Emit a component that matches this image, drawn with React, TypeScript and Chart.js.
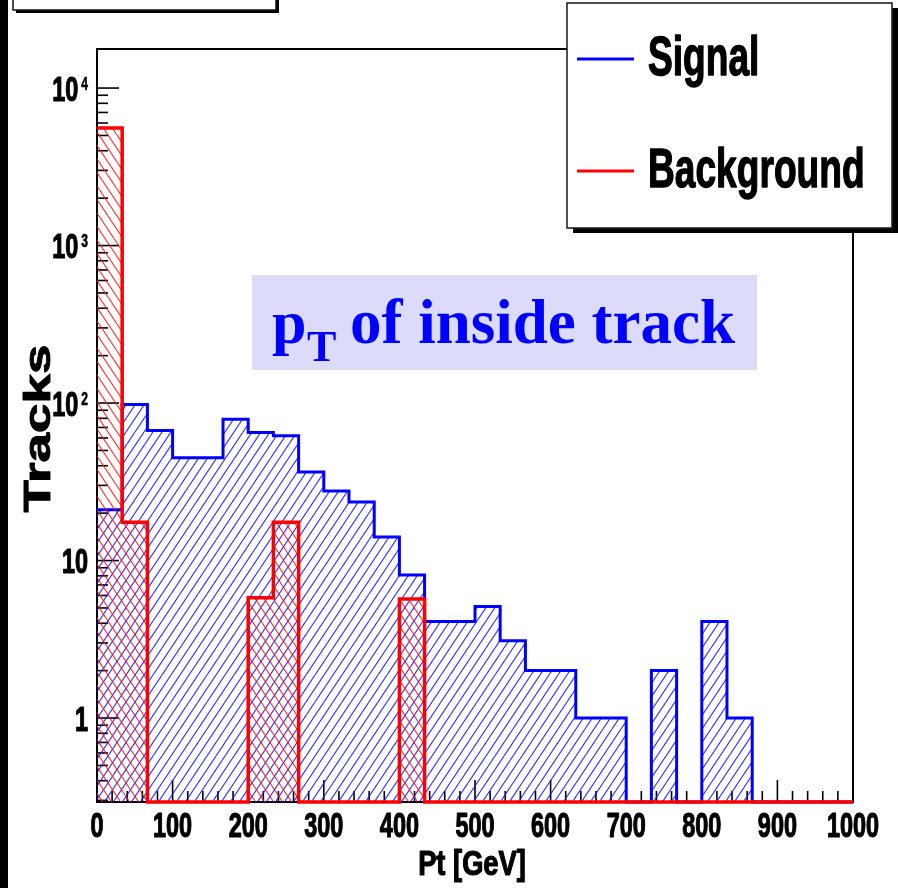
import React, { useEffect, useRef } from 'react';
import { Chart, registerables } from 'chart.js';

Chart.register(...registerables);

const W = 898;
const H = 888;

// Bin edges of the histogram (Pt in GeV), 30 bins of 33.3 GeV
const binEdges = [
  0, 33.3, 66.7, 100, 133.3, 166.7, 200, 233.3, 266.7, 300, 333.3, 366.7, 400, 433.3, 466.7,
  500, 533.3, 566.7, 600, 633.3, 666.7, 700, 733.3, 766.7, 800, 833.3, 866.7, 900, 933.3, 966.7,
  1000,
];

// Bin contents
const signalCounts = [
  21, 98, 67, 45, 45, 79, 65, 62, 36.5, 27.6, 23.5, 14.1, 8.1, 4.1, 4.1,
  5.1, 3.1, 2, 2, 1, 1, 0, 2, 0, 4.1, 1, 0, 0, 0, 0,
];
const backgroundCounts = [
  5570, 17.5, 0, 0, 0, 0, 5.8, 17.5, 0, 0, 0, 0, 5.7, 0, 0,
  0, 0, 0, 0, 0, 0, 0, 0, 0, 0, 0, 0, 0, 0, 0,
];

const seriesNames = ['Signal', 'Background'];
const xTickValues = [0, 100, 200, 300, 400, 500, 600, 700, 800, 900, 1000];
const xTickLabels = ['0', '100', '200', '300', '400', '500', '600', '700', '800', '900', '1000'];
const yDecadeValues = [1, 10, 100, 1000, 10000];
const yDecadeExponents = [0, 1, 2, 3, 4];

const X_MIN = 0;
const X_MAX = 1000;
const Y_MIN = 0.293;
const Y_MAX = 17700;

const xTitle = 'Pt [GeV]';
const yTitle = 'Tracks';

const SANS = '"Liberation Sans", Arial, Helvetica, sans-serif';
const SERIF = '"Liberation Serif", "Times New Roman", Times, serif';

function histPoints(counts: number[]) {
  const pts = counts.map((c, i) => ({ x: binEdges[i], y: c > 0 ? c : Y_MIN }));
  pts.push({ x: binEdges[counts.length], y: pts[pts.length - 1].y });
  return pts;
}

function makeHatch(color: string, rising: boolean): CanvasPattern | string {
  const c = document.createElement('canvas');
  const tw = 18;
  const th = 27;
  c.width = tw;
  c.height = th;
  const g = c.getContext('2d');
  if (!g) return 'transparent';
  g.strokeStyle = color;
  g.lineWidth = 1.1;
  for (const off of [-18, -9, 0, 9, 18]) {
    g.beginPath();
    if (rising) {
      g.moveTo(off, th);
      g.lineTo(off + tw, 0);
    } else {
      g.moveTo(off, 0);
      g.lineTo(off + tw, th);
    }
    g.stroke();
  }
  return g.createPattern(c, 'repeat') || 'transparent';
}

function sText(
  ctx: CanvasRenderingContext2D,
  text: string,
  x: number,
  y: number,
  font: string,
  sx: number,
  align: CanvasTextAlign,
  heavy = 0,
) {
  ctx.save();
  ctx.font = font;
  ctx.translate(x, y);
  ctx.scale(sx, 1);
  ctx.textAlign = align;
  ctx.textBaseline = 'alphabetic';
  ctx.fillText(text, 0, 0);
  if (heavy > 0) {
    ctx.strokeStyle = ctx.fillStyle as string;
    ctx.lineWidth = heavy;
    ctx.lineJoin = 'round';
    ctx.strokeText(text, 0, 0);
  }
  ctx.restore();
}

function textW(ctx: CanvasRenderingContext2D, text: string, font: string, sx: number) {
  ctx.save();
  ctx.font = font;
  const w = ctx.measureText(text).width * sx;
  ctx.restore();
  return w;
}

const rootPlugin = {
  id: 'rootStyle',
  beforeDraw(chart: any) {
    const ctx: CanvasRenderingContext2D = chart.ctx;
    ctx.save();
    ctx.fillStyle = '#ffffff';
    ctx.fillRect(0, 0, W, H);
    // slide edge
    ctx.fillStyle = '#000000';
    ctx.fillRect(0, 0, 8, H);
    // cut-off title box (top-left)
    ctx.fillStyle = '#000000';
    ctx.fillRect(16, -5, 263, 18);
    ctx.fillStyle = '#ffffff';
    ctx.fillRect(13, -5, 263, 15);
    ctx.strokeStyle = '#111111';
    ctx.lineWidth = 1.5;
    ctx.strokeRect(13, -5, 263, 15);
    ctx.restore();
  },
  beforeDatasetsDraw(chart: any) {
    const ctx: CanvasRenderingContext2D = chart.ctx;
    const a = chart.chartArea;
    const xs = chart.scales.x;
    const ys = chart.scales.y;
    ctx.save();
    // frame
    ctx.strokeStyle = '#000000';
    ctx.lineWidth = 2;
    ctx.strokeRect(a.left, a.top, a.right - a.left, a.bottom - a.top);
    // x ticks (inside)
    ctx.lineWidth = 1.6;
    for (let v = X_MIN; v <= X_MAX; v += 20) {
      const px = xs.getPixelForValue(v);
      const len = v % 100 === 0 ? 22 : 11;
      ctx.beginPath();
      ctx.moveTo(px, a.bottom);
      ctx.lineTo(px, a.bottom - len);
      ctx.stroke();
    }
    // y ticks (inside)
    for (let e = -1; e <= 4; e++) {
      const base = Math.pow(10, e);
      for (let m = 1; m <= 9; m++) {
        const v = m * base;
        if (v < Y_MIN || v > Y_MAX) continue;
        const py = ys.getPixelForValue(v);
        const len = m === 1 ? 22 : 11;
        ctx.beginPath();
        ctx.moveTo(a.left, py);
        ctx.lineTo(a.left + len, py);
        ctx.stroke();
      }
    }
    ctx.restore();
  },
  afterDatasetsDraw(chart: any) {
    const ctx: CanvasRenderingContext2D = chart.ctx;
    const a = chart.chartArea;
    const xs = chart.scales.x;
    const ys = chart.scales.y;
    ctx.save();
    ctx.fillStyle = '#000000';
    const tickFont = `bold 35px ${SANS}`;
    const supFont = `bold 18px ${SANS}`;
    const SX = 0.67;
    // x tick labels
    xTickValues.forEach((v, i) => {
      sText(ctx, xTickLabels[i], xs.getPixelForValue(v), 837, tickFont, SX, 'center', 1.2);
    });
    // y tick labels
    const rightEdge = a.left - 9;
    yDecadeValues.forEach((v, i) => {
      const py = ys.getPixelForValue(v);
      const ex = yDecadeExponents[i];
      if (ex === 0) {
        sText(ctx, '1', rightEdge, py + 12.5, tickFont, SX, 'right', 1.2);
      } else if (ex === 1) {
        sText(ctx, '10', rightEdge, py + 12.5, tickFont, SX, 'right', 1.2);
      } else {
        const sup = String(ex);
        const sw = textW(ctx, sup, supFont, SX);
        sText(ctx, sup, rightEdge, py + 1.5, supFont, SX, 'right', 0.6);
        sText(ctx, '10', rightEdge - sw - 3, py + 12.5, tickFont, SX, 'right', 1.2);
      }
    });
    // axis titles
    sText(ctx, xTitle, 472, 875, `bold 35px ${SANS}`, 0.78, 'center', 1.2);
    ctx.save();
    ctx.translate(50, (a.top + a.bottom) / 2 + 3);
    ctx.rotate(-Math.PI / 2);
    ctx.scale(1, 0.68);
    ctx.font = `bold 53px ${SANS}`;
    ctx.textAlign = 'center';
    ctx.textBaseline = 'alphabetic';
    ctx.fillText(yTitle, 0, 0);
    ctx.strokeStyle = '#000000';
    ctx.lineWidth = 1.4;
    ctx.lineJoin = 'round';
    ctx.strokeText(yTitle, 0, 0);
    ctx.restore();

    // legend box
    ctx.fillStyle = '#000000';
    ctx.fillRect(573, 8, 325, 225);
    ctx.fillStyle = '#ffffff';
    ctx.fillRect(567, 3, 325, 225);
    ctx.strokeStyle = '#222222';
    ctx.lineWidth = 1.6;
    ctx.strokeRect(567, 3, 325, 225);
    const legendColors = ['#0000ff', '#ff0000'];
    const legendLineY = [59, 171];
    const legendBase = [75, 187];
    seriesNames.forEach((name, i) => {
      ctx.strokeStyle = legendColors[i];
      ctx.lineWidth = 3;
      ctx.beginPath();
      ctx.moveTo(577, legendLineY[i]);
      ctx.lineTo(634, legendLineY[i]);
      ctx.stroke();
      ctx.fillStyle = '#000000';
      sText(ctx, name, 648, legendBase[i], `bold 55px ${SANS}`, 0.675, 'left', 1.4);
    });

    // annotation
    ctx.fillStyle = '#dcdcfa';
    ctx.fillRect(252, 275, 505, 95);
    ctx.fillStyle = '#0000ff';
    ctx.textAlign = 'left';
    ctx.textBaseline = 'alphabetic';
    ctx.font = `bold 62px ${SERIF}`;
    ctx.fillText('p', 272, 343);
    ctx.font = `bold 44px ${SERIF}`;
    ctx.fillText('T', 307, 361);
    ctx.font = `bold 63px ${SERIF}`;
    ctx.fillText('of inside track', 350, 343);
    ctx.restore();
  },
};

export default function App() {
  const ref = useRef<HTMLCanvasElement | null>(null);

  useEffect(() => {
    const canvas = ref.current;
    if (!canvas) return;
    const blueHatch = makeHatch('rgba(20,20,255,0.9)', true);
    const redHatch = makeHatch('rgba(255,20,20,0.9)', false);

    const chart = new Chart(canvas, {
      type: 'line',
      data: {
        datasets: [
          {
            label: seriesNames[1],
            data: histPoints(backgroundCounts),
            stepped: true,
            borderColor: '#ff0000',
            borderWidth: 3.5,
            backgroundColor: redHatch as any,
            fill: 'start',
            pointRadius: 0,
            borderJoinStyle: 'miter',
            borderCapStyle: 'butt',
            clip: false,
            order: 0,
          },
          {
            label: seriesNames[0],
            data: histPoints(signalCounts),
            stepped: true,
            borderColor: '#0000ff',
            borderWidth: 3,
            backgroundColor: blueHatch as any,
            fill: 'start',
            pointRadius: 0,
            borderJoinStyle: 'miter',
            borderCapStyle: 'butt',
            clip: false,
            order: 1,
          },
        ],
      },
      options: {
        animation: false,
        responsive: false,
        devicePixelRatio: 1,
        layout: { padding: { left: 97, right: W - 853, top: 49, bottom: H - 802 } },
        plugins: {
          legend: { display: false },
          tooltip: { enabled: false },
          title: { display: false },
        },
        scales: {
          x: { type: 'linear', min: X_MIN, max: X_MAX, display: false },
          y: { type: 'logarithmic', min: Y_MIN, max: Y_MAX, display: false },
        },
      },
      plugins: [rootPlugin],
    } as any);

    return () => chart.destroy();
  }, []);

  return (
    <div style={{ position: 'absolute', left: 0, top: 0, width: W, height: H }}>
      <canvas ref={ref} width={W} height={H} style={{ display: 'block', width: W, height: H }} />
    </div>
  );
}
